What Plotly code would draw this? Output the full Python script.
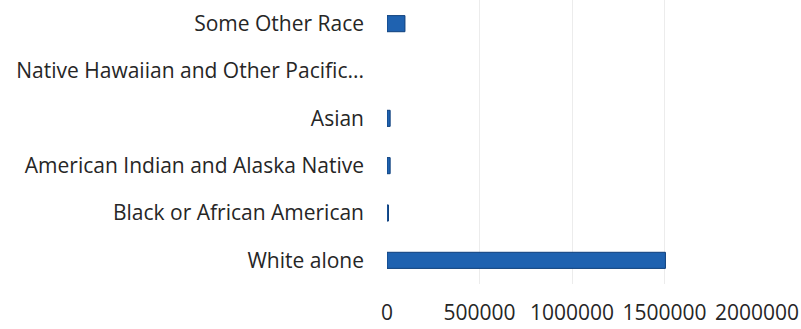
import plotly.graph_objects as go

categories = ["White alone", "Black or African American", "American Indian and Alaska Native",
              "Asian", "Native Hawaiian and Other Pacific...", "Some Other Race"]
values = [1505000, 8000, 17000, 17000, 0, 97000]
x_ticks = [0, 500000, 1000000, 1500000, 2000000]

edge_widths = [1 if v > 0 else 0 for v in values]

fig = go.Figure(go.Bar(
    x=values, y=categories, orientation="h",
    marker=dict(color="#1f62b0", line=dict(color="#0e3f7c", width=edge_widths)),
))

fig.update_layout(
    width=801, height=329,
    margin=dict(l=387, r=44, t=0, b=45),
    paper_bgcolor="white", plot_bgcolor="white",
    bargap=0.66,
    showlegend=False,
    font=dict(family="Open Sans, Noto Sans, sans-serif", size=21, color="#262626"),
)
fig.update_xaxes(
    range=[0, 2000000], tickvals=x_ticks, ticktext=[str(v) for v in x_ticks],
    showgrid=True, gridcolor="#ececec", gridwidth=1, zeroline=False, showline=False,
    ticklabelstandoff=14,
)
fig.update_yaxes(
    categoryorder="array", categoryarray=categories,
    showgrid=False, zeroline=False, showline=False, ticklabelstandoff=22,
)

fig.write_html("out.html")
